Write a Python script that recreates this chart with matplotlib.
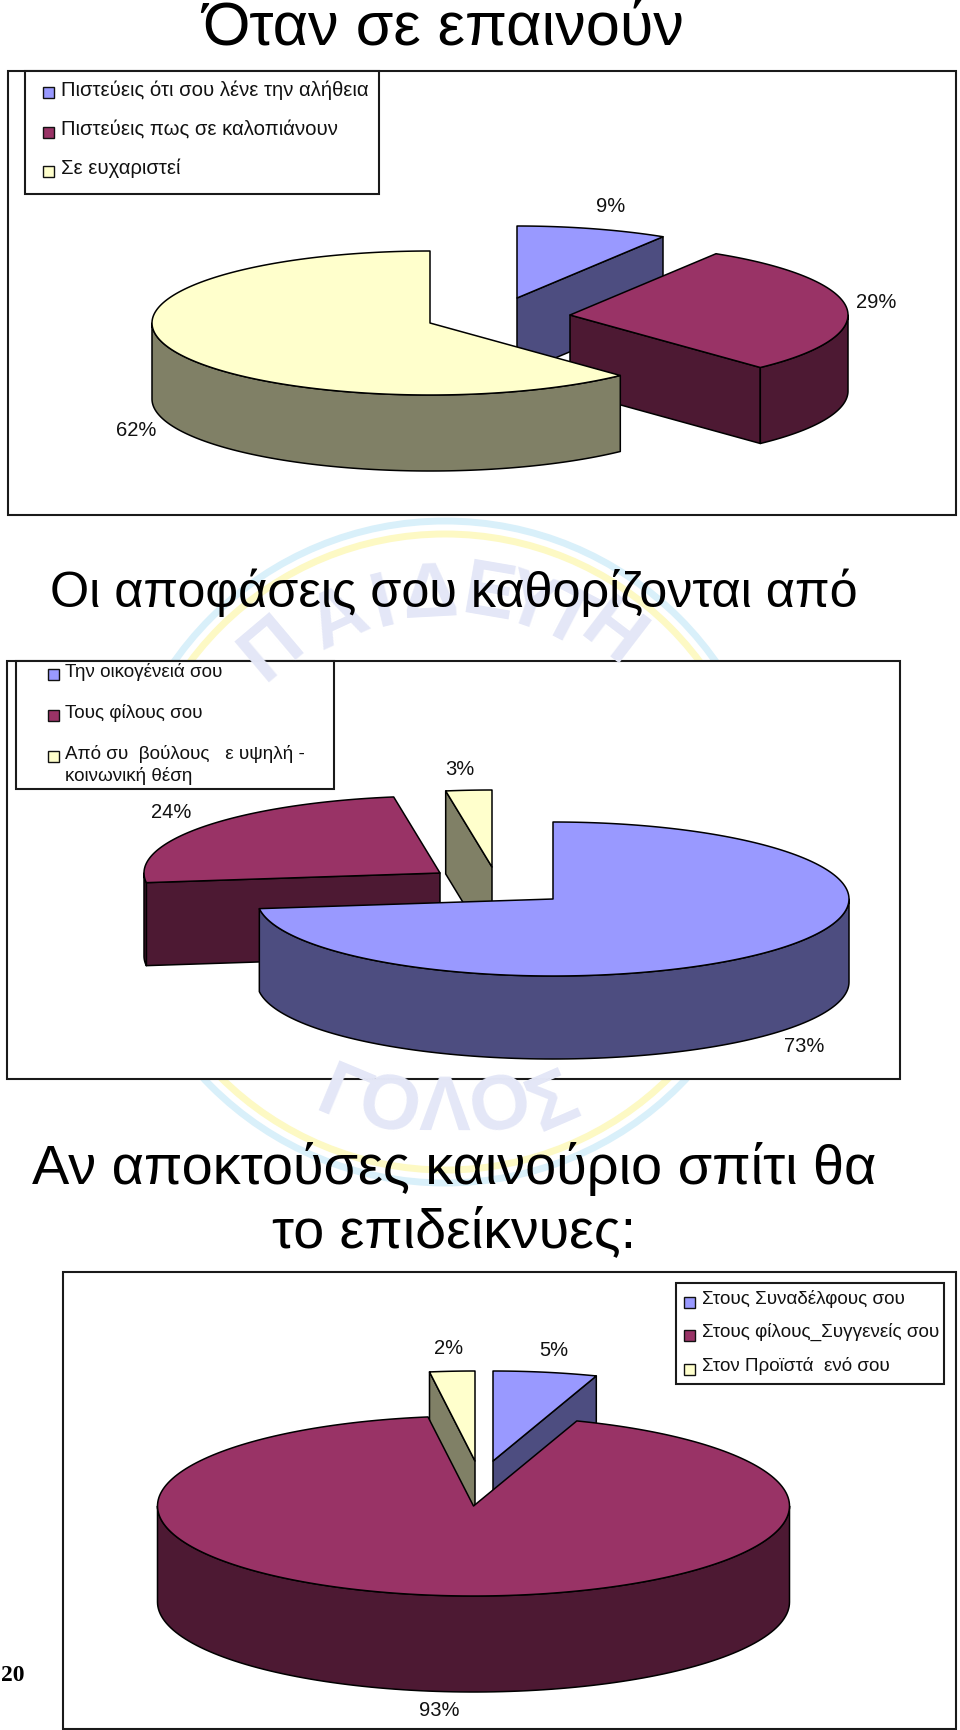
import numpy as np
import matplotlib
matplotlib.use('Agg')
import matplotlib.pyplot as plt
from matplotlib.patches import Polygon, Rectangle, Circle

plt.rcParams['font.family'] = ['Liberation Sans', 'DejaVu Sans']

# chart data
titles1 = ['Όταν σε επαινούν']
labels1 = ['Πιστεύεις ότι σου λένε την αλήθεια', 'Πιστεύεις πως σε καλοπιάνουν', 'Σε ευχαριστεί']
values1 = [8.8, 29.2, 62]
pct1 = ['9%', '29%', '62%']

titles2 = ['Οι αποφάσεις σου καθορίζονται από']
labels2 = ['Την οικογένειά σου', 'Τους φίλους σου', 'Από συ  βούλους   ε υψηλή -\nκοινωνική θέση']
values2 = [73, 24.5, 2.5]
pct2 = ['73%', '24%', '3%']

titles3 = ['Αν αποκτούσες καινούριο σπίτι θα', 'το επιδείκνυες:']
labels3 = ['Στους Συναδέλφους σου', 'Στους φίλους_Συγγενείς σου', 'Στον Προϊστά  ενό σου']
values3 = [5.3, 92.4, 2.3]
pct3 = ['5%', '93%', '2%']

top_colors = ['#9999ff', '#993366', '#ffffcc']
side_colors = ['#4d4d80', '#4d1933', '#808066']


def ell(cx, cy, rx, ry, a):
    a = np.radians(a)
    return np.column_stack([cx + rx * np.sin(a), cy - ry * np.cos(a)])


def draw_slice(ax, i, a0, a1, cx, cy, rx, ry, depth):
    # angles run clockwise from 12 o'clock
    down = np.array([0, depth])
    c = np.array([[cx, cy]])
    kw = dict(ec='black', lw=1.1, joinstyle='round')
    for a, sign in ((a1, 1), (a0, -1)):
        if sign * np.sin(np.radians(a)) > 1e-6:
            p = ell(cx, cy, rx, ry, a)
            ax.add_patch(Polygon(np.vstack([c, p, p + down, c + down]), fc=side_colors[i], **kw))
    s0, s1 = max(a0, 90), min(a1, 270)
    if s1 > s0:
        arc = ell(cx, cy, rx, ry, np.linspace(s0, s1, 120))
        ax.add_patch(Polygon(np.vstack([arc, (arc + down)[::-1]]), fc=side_colors[i], **kw))
    arc = ell(cx, cy, rx, ry, np.linspace(a0, a1, 240))
    ax.add_patch(Polygon(np.vstack([c, arc]), fc=top_colors[i], **kw))


def draw_pie(ax, values, centres, rx, ry, depth, order):
    edges = np.concatenate([[0], np.cumsum(values)]) * 360.0 / np.sum(values)
    for i in order:
        draw_slice(ax, i, edges[i], edges[i + 1], centres[i][0], centres[i][1], rx, ry, depth)


def draw_box(ax, x0, y0, x1, y1, lw=1.5):
    ax.add_patch(Rectangle((x0, y0), x1 - x0, y1 - y0, fc='white', ec='#1a1a1a', lw=lw))


def draw_legend(ax, labels, sq_x, sq_ys, tx, tys, size, sq=10.5, linespacing=1.28):
    for i in range(len(labels)):
        ax.add_patch(Rectangle((sq_x, sq_ys[i]), sq, sq, fc=top_colors[i], ec='#111111', lw=1))
        ax.text(tx, tys[i], labels[i], fontsize=size, va='top', ha='left', color='#111111',
                linespacing=linespacing)


fig = plt.figure(figsize=(9.6, 17.31), dpi=100)
ax = fig.add_axes([0, 0, 1, 1])
ax.set_xlim(0, 960)
ax.set_ylim(1731, 0)
ax.axis('off')

# faint logo behind the page
logo_x, logo_y = 445, 853
ax.add_patch(Circle((logo_x, logo_y), 331, fc='none', ec='#d9f0fa', lw=5))
ax.add_patch(Circle((logo_x, logo_y), 318, fc='none', ec='#fdf9c4', lw=5))
top_letters = [('Π', 272, 648), ('Α', 338, 620), ('Ι', 383, 604), ('Δ', 431, 596),
               ('Ε', 489, 596), ('Υ', 530, 606), ('Τ', 566, 620), ('Η', 611, 636)]
for ch, x, y in top_letters:
    ax.text(x, y, ch, fontsize=56, color='#e4e7f7', ha='center', va='center', fontweight='bold',
            rotation=-np.degrees(np.arctan2(x - logo_x, logo_y - y)))
bottom_letters = [('Γ', 342, 1100), ('Ο', 389, 1108), ('Λ', 444, 1110), ('Ο', 501, 1108), ('Σ', 554, 1104)]
for ch, x, y in bottom_letters:
    ax.text(x, y, ch, fontsize=56, color='#e4e7f7', ha='center', va='center', fontweight='bold',
            rotation=np.degrees(np.arctan2(x - logo_x, y - logo_y)))

# chart 1
draw_box(ax, 8, 72, 956, 516)
draw_box(ax, 25, 72, 379, 195)
draw_legend(ax, labels1, 43, [88, 128, 167], 61, [80, 120, 159], 14.6)
draw_pie(ax, values1, [(517, 299), (570, 316), (430, 324)], 278, 72, 76, [0, 1, 2])

# chart 2
draw_box(ax, 7, 662, 900, 1080)
draw_box(ax, 16, 662, 334, 790)
draw_legend(ax, labels2, 48, [670, 711, 752], 65, [663, 704, 745], 13.6)
draw_pie(ax, values2, [(553, 900), (440, 874), (492, 868)], 296, 77, 83, [1, 2, 0])

# chart 3
draw_box(ax, 63, 1273, 956, 1730)
draw_box(ax, 676, 1284, 944, 1385)
draw_legend(ax, labels3, 684, [1298, 1331, 1365], 702, [1290, 1323, 1357], 13.6)
draw_pie(ax, values3, [(493, 1462), (473.5, 1507), (475, 1462)], 316, 90, 96, [2, 0, 1])

# percent labels
for txt, x, y in zip(pct1, [611, 876, 136], [207, 303, 431]):
    ax.text(x, y, txt, fontsize=14.5, ha='center', va='center', color='#111111')
for txt, x, y in zip(pct2, [804, 171, 460], [1047, 813, 770]):
    ax.text(x, y, txt, fontsize=14.5, ha='center', va='center', color='#111111')
for txt, x, y in zip(pct3, [554, 439, 449], [1351, 1711, 1349]):
    ax.text(x, y, txt, fontsize=14.5, ha='center', va='center', color='#111111')

# slide titles
ax.text(443, 46, titles1[0], fontsize=44, ha='center', va='baseline', color='black')
ax.text(453.5, 607, titles2[0], fontsize=36.3, ha='center', va='baseline', color='black')
ax.text(454, 1184, titles3[0], fontsize=40.2, ha='center', va='baseline', color='black')
ax.text(454.5, 1247, titles3[1], fontsize=40, ha='center', va='baseline', color='black')

# page number
ax.text(13, 1676, '20', fontsize=17, fontweight='bold', family='Liberation Serif', ha='center', va='center')

fig.savefig('out.png', dpi=100)
